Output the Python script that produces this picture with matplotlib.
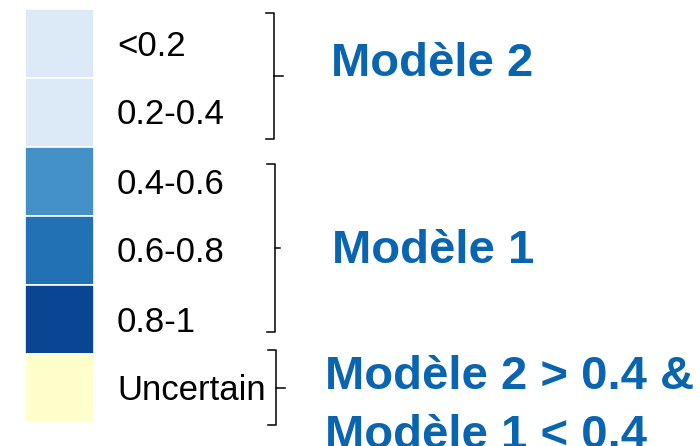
import matplotlib.pyplot as plt

plt.rcParams['font.family'] = ['Liberation Sans', 'DejaVu Sans']

labels = ["<0.2", "0.2-0.4", "0.4-0.6", "0.6-0.8", "0.8-1", "Uncertain"]
colors = ["#dce9f6", "#dce9f6", "#4391c6", "#2271b5", "#0a4594", "#ffffcc"]

groups = ["Modèle 2", "Modèle 1", "Modèle 2 > 0.4 &\nModèle 1 < 0.4"]
group_rows = [(0, 1), (2, 4), (5, 5)]

fig = plt.figure(figsize=(7, 4.46), dpi=100)
ax = fig.add_axes([0, 0, 1, 1])
ax.set_xlim(0, 700)
ax.set_ylim(446, 0)
ax.axis('off')

# colour blocks, one per class
top, h = 9, 69
for i, (lab, col) in enumerate(zip(labels, colors)):
    y0 = top + i * h
    ax.add_patch(plt.Rectangle((25, y0), 69, h, facecolor=col,
                               edgecolor='white', linewidth=1.2))
    ax.text(117, y0 + h / 2 + 12, lab, fontsize=25, va='baseline',
            ha='left', color='black')

# brackets + group titles
br = [(13, 139, 274), (164, 332, 275), (350, 425, 276)]
tick_len = [9, 5, 9]
txt_pos = [(331, 76), (332, 263), (325, 389)]
for g, (b0, b1, bx), tl, (tx, ty) in zip(groups, br, tick_len, txt_pos):
    mid = (b0 + b1) / 2
    ax.plot([bx - 8, bx, bx, bx - 8], [b0, b0, b1, b1], color='black',
            lw=1.1, solid_joinstyle='round')
    ax.plot([bx, bx + tl], [mid, mid], color='black', lw=1.1)
    for k, line in enumerate(g.split('\n')):
        ax.text(tx, ty + k * 59, line, fontsize=34, fontweight='bold',
                color='#0a65b0', va='baseline', ha='left')

fig.savefig("out.png", dpi=100)
